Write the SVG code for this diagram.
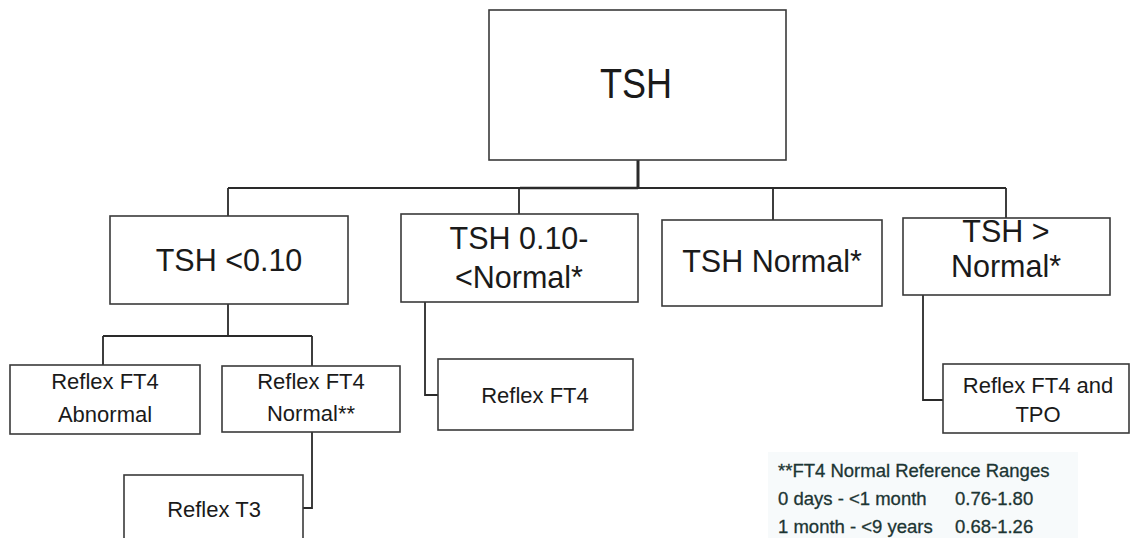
<svg xmlns="http://www.w3.org/2000/svg" width="1130" height="538" viewBox="0 0 1130 538">
<style>
.box{fill:#fff;stroke:#3a3a3a;stroke-width:1.6}
.t{font-family:"Liberation Sans",Arial,sans-serif;fill:#1a1a1a;text-anchor:middle}
.l2{font-size:30.5px}
.l3{font-size:22px}
.con{fill:none;stroke:#2a2a2a;stroke-width:1.8}
.leg{font-family:"Liberation Sans",Arial,sans-serif;font-size:18.5px;fill:#1c3533;stroke:#1c3533;stroke-width:0.3}
</style>
<rect width="1130" height="538" fill="#fff"/>
<g id="connectors">
<path class="con" d="M638 160 V188" style="stroke-width:3"/>
<path class="con" d="M228 188 H1006"/>
<path class="con" d="M520 188 H638" style="stroke-width:2.6"/>
<path class="con" d="M228 188 V216 M519 188 V214 M773 188 V220 M1006 188 V218"/>
<path class="con" d="M228 304 V336 M103 336 H312 M103 336 V365 M312 336 V366"/>
<path class="con" d="M425 302 V395 H438"/>
<path class="con" d="M923 295 V400 H943"/>
<path class="con" d="M312 432 V508 H303"/>
</g>
<g id="tsh"><rect class="box" x="489" y="10" width="297" height="150"/><text class="t" x="636" y="98" font-size="40" textLength="72" lengthAdjust="spacingAndGlyphs" transform="translate(636 98) scale(1 1.08) translate(-636 -98)">TSH</text></g>
<g id="tsh-low"><rect class="box" x="110" y="216" width="238" height="88"/><text class="t l2" x="229" y="271">TSH &lt;0.10</text></g>
<g id="tsh-mid"><rect class="box" x="401" y="214" width="237" height="88"/><text class="t l2" x="519" y="249">TSH 0.10-</text><text class="t l2" x="519" y="288">&lt;Normal*</text></g>
<g id="tsh-normal"><rect class="box" x="662" y="220" width="220" height="86"/><text class="t l2" x="772" y="272">TSH Normal*</text></g>
<g id="tsh-high"><rect class="box" x="903" y="218" width="207" height="77"/><text class="t l2" x="1006" y="242">TSH &gt;</text><text class="t l2" x="1006" y="277">Normal*</text></g>
<g id="ft4-abn"><rect class="box" x="10" y="365" width="190" height="69"/><text class="t l3" x="105" y="389">Reflex FT4</text><text class="t l3" x="105" y="422">Abnormal</text></g>
<g id="ft4-norm"><rect class="box" x="222" y="366" width="178" height="66"/><text class="t l3" x="311" y="389">Reflex FT4</text><text class="t l3" x="311" y="421">Normal**</text></g>
<g id="ft4-mid"><rect class="box" x="438" y="359" width="195" height="71"/><text class="t l3" x="535" y="403">Reflex FT4</text></g>
<g id="ft4-tpo"><rect class="box" x="943" y="364" width="186" height="69"/><text class="t l3" x="1038" y="393">Reflex FT4 and</text><text class="t l3" x="1038" y="422">TPO</text></g>
<g id="t3"><rect class="box" x="124" y="475" width="179" height="75"/><text class="t l3" x="214" y="517">Reflex T3</text></g>
<g id="legend">
<rect x="768" y="452" width="310" height="86" fill="#f7fafb"/>
<text class="leg" x="778" y="477">**FT4 Normal Reference Ranges</text>
<text class="leg" x="778" y="505">0 days - &lt;1 month</text><text class="leg" x="955" y="505">0.76-1.80</text>
<text class="leg" x="778" y="533">1 month - &lt;9 years</text><text class="leg" x="955" y="533">0.68-1.26</text>
</g>
</svg>
